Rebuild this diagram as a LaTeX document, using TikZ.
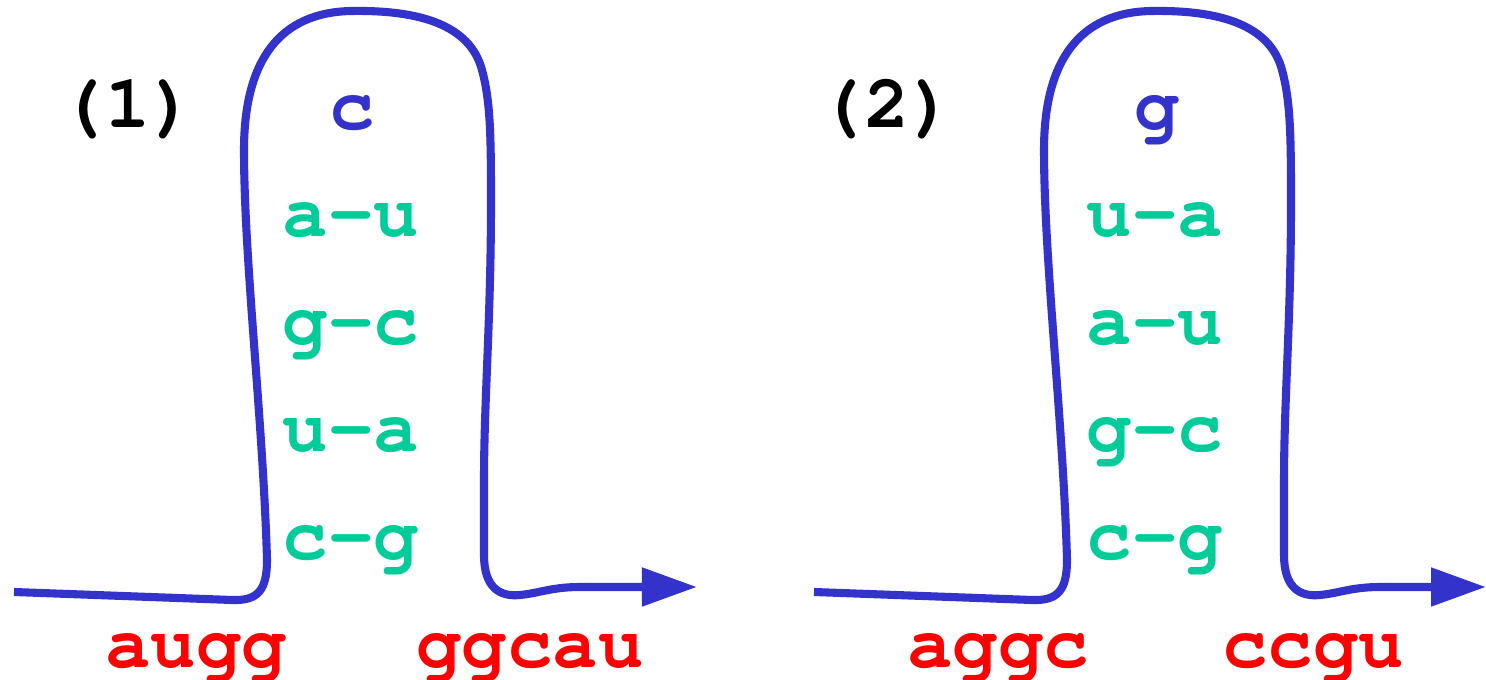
\documentclass[tikz,border=0pt]{standalone}
\usepackage[T1]{fontenc}
\renewcommand{\ttdefault}{pcr}
\usetikzlibrary{arrows.meta}

\definecolor{loopblue}{RGB}{51,51,204}
\definecolor{pairgreen}{RGB}{0,204,153}
\definecolor{flankred}{RGB}{255,0,0}

\tikzset{
  nt/.style={font=\ttfamily\bfseries\fontsize{21.5}{26}\selectfont,
    inner sep=0pt, anchor=base},
  strand/.style={draw=loopblue, line width=2.3pt, line join=round,
    -{Triangle[length=0.55cm, width=0.37cm]}},
}

% one RNA strand folded into a hairpin, #1 = x of the arrow tip
\newcommand{\stemloop}[1]{%
  \draw[strand] (14,592) -- (232,600)
    .. controls (258,601) and (267,590) .. (267,560)
    .. controls (263,420) and (244,260) .. (244,150)
    .. controls (244,60) and (280,12) .. (352,11)
    .. controls (420,10) and (470,25) .. (482,70)
    .. controls (490,100) and (491,130) .. (491,200)
    .. controls (491,320) and (484,400) .. (484,480)
    -- (484,555)
    .. controls (484,588) and (500,597) .. (520,595)
    .. controls (540,593) and (552,587) .. (580,587)
    -- (#1,587);}

\begin{document}
\begin{tikzpicture}[x=0.01cm, y=-0.01cm]
  \useasboundingbox (0,0) rectangle (1486,680);

  % hairpin (1)
  \stemloop{697}
  \node[nt] (lab1) at (128,128) {(1)};
  \node[nt, loopblue] (loop1) at (352,130) {c};
  \node[nt, pairgreen] (p1a) at (351,237) {a-u};
  \node[nt, pairgreen] (p1b) at (351,345) {g-c};
  \node[nt, pairgreen] (p1c) at (351,452) {u-a};
  \node[nt, pairgreen] (p1d) at (351,560) {c-g};
  \node[nt, flankred] (in1) at (196,667) {augg};
  \node[nt, flankred] (out1) at (530,667) {ggcau};

  % hairpin (2)
  \begin{scope}[shift={(800,0)}]
    \stemloop{686}
  \end{scope}
  \node[nt] (lab2) at (887,128) {(2)};
  \node[nt, loopblue] (loop2) at (1157,130) {g};
  \node[nt, pairgreen] (p2a) at (1155,237) {u-a};
  \node[nt, pairgreen] (p2b) at (1155,345) {a-u};
  \node[nt, pairgreen] (p2c) at (1155,452) {g-c};
  \node[nt, pairgreen] (p2d) at (1155,560) {c-g};
  \node[nt, flankred] (in2) at (998,667) {aggc};
  \node[nt, flankred] (out2) at (1313,667) {ccgu};
\end{tikzpicture}
\end{document}
